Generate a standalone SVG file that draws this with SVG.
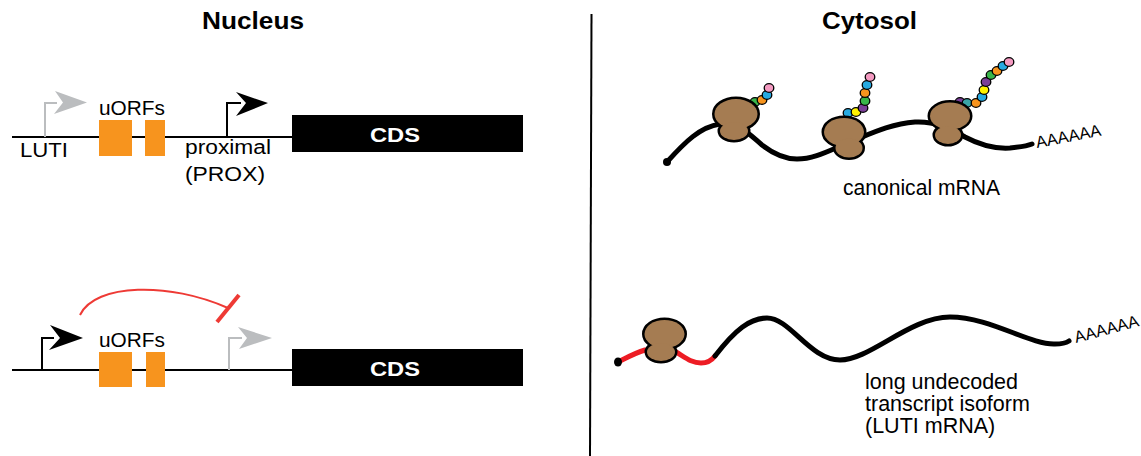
<svg xmlns="http://www.w3.org/2000/svg" width="1141" height="456" viewBox="0 0 1141 456">
  <style>
    .title { font-family: "Liberation Sans", Arial, sans-serif; font-weight: bold; font-size: 23px; fill: #000; }
    .lbl { font-family: "Liberation Sans", Arial, sans-serif; font-size: 19.5px; fill: #000; }
    .lbl2 { font-family: "Liberation Sans", Arial, sans-serif; font-size: 21.5px; fill: #000; }
    .cds-txt { font-family: "Liberation Sans", Arial, sans-serif; font-weight: bold; font-size: 19.5px; fill: #fff; }
    .polyA { font-family: "Liberation Sans", Arial, sans-serif; font-size: 16.5px; fill: #000; }
    .dna { stroke: #000; stroke-width: 2; fill: none; }
    .uorf { fill: #F7941E; }
    .cds { fill: #000; }
    .prom-on { stroke: #000; stroke-width: 2; fill: none; }
    .prom-off { stroke: #BBBDBF; stroke-width: 2; fill: none; }
    .head-on { fill: #000; }
    .head-off { fill: #BBBDBF; }
    .mrna { stroke: #000; stroke-width: 5; fill: none; stroke-linecap: round; }
    .mrna-red { stroke: #ED1C24; stroke-width: 5; fill: none; stroke-linecap: round; }
    .rb-o { fill: #000; stroke: #000; stroke-width: 5; }
    .rb-f { fill: #A57C52; }
    .bead { stroke: #000; stroke-width: 1.3; }
    .g { fill: #39B54A; } .o { fill: #F7941E; } .b { fill: #27AAE1; } .p { fill: #F49AC1; }
    .y { fill: #FFF200; } .v { fill: #7B3F98; } .t { fill: #3AA4A6; }
  </style>

  <!-- section titles and divider -->
  <g id="titles">
    <text class="title" x="202" y="29" textLength="102" lengthAdjust="spacingAndGlyphs">Nucleus</text>
    <text class="title" x="822" y="29" textLength="95" lengthAdjust="spacingAndGlyphs">Cytosol</text>
    <line x1="591.5" y1="14" x2="590" y2="456" stroke="#000" stroke-width="2"/>
  </g>

  <!-- gene locus, PROX promoter active -->
  <g id="locus-prox">
    <line class="dna" x1="12" y1="137" x2="292" y2="137"/>
    <polyline class="prom-off" points="45,137 45,103 57,103"/>
    <polygon class="head-off" points="55,91 87,102.5 54,114 63,102.5"/>
    <rect class="uorf" x="99" y="120" width="33" height="36"/>
    <rect class="uorf" x="145" y="120" width="20" height="36"/>
    <polyline class="prom-on" points="227,137 227,103 241,103"/>
    <polygon class="head-on" points="236,92 268,103 236,116 246,103"/>
    <rect class="cds" x="292" y="115" width="231" height="37"/>
    <text class="cds-txt" x="370" y="142" textLength="50" lengthAdjust="spacingAndGlyphs">CDS</text>
    <text class="lbl" x="99" y="115" textLength="66" lengthAdjust="spacingAndGlyphs">uORFs</text>
    <text class="lbl" x="20" y="157" textLength="48" lengthAdjust="spacingAndGlyphs">LUTI</text>
    <text class="lbl" x="185" y="154" textLength="86" lengthAdjust="spacingAndGlyphs">proximal</text>
    <text class="lbl" x="185" y="181" textLength="80" lengthAdjust="spacingAndGlyphs">(PROX)</text>
  </g>

  <!-- gene locus, LUTI promoter active -->
  <g id="locus-luti">
    <line class="dna" x1="12" y1="370" x2="292" y2="370"/>
    <polyline class="prom-on" points="42,370 42,338 54,338"/>
    <polygon class="head-on" points="50,325 83,338 49,350 60,338"/>
    <rect class="uorf" x="99" y="352" width="33" height="35"/>
    <rect class="uorf" x="146" y="352" width="19" height="35"/>
    <polyline class="prom-off" points="229,370 229,338 242,338"/>
    <polygon class="head-off" points="238,327 272,338 239,349 247,338"/>
    <rect class="cds" x="292" y="349" width="231" height="37"/>
    <text class="cds-txt" x="370" y="376" textLength="50" lengthAdjust="spacingAndGlyphs">CDS</text>
    <text class="lbl" x="99" y="347" textLength="66" lengthAdjust="spacingAndGlyphs">uORFs</text>
  </g>

  <!-- repression of PROX by LUTI transcription -->
  <g id="connectors">
    <path d="M80,315 C95,283 170,282 228,308" fill="none" stroke="#EE3A35" stroke-width="2"/>
    <line x1="217" y1="322" x2="239" y2="295" stroke="#EE3A35" stroke-width="4"/>
  </g>

  <!-- canonical mRNA with three translating ribosomes -->
  <g id="canonical-mrna">
    <path class="mrna" d="M667,162 C685,142 700,127 720,124 C738,121 750,135 762,145 C775,155 785,159 797,159 C815,159 830,150 850,142 C870,134 890,124 915,122 C935,121 950,128 965,137 C980,145 995,149 1010,148 C1020,147 1027,146 1032,144"/>
    <circle cx="667" cy="162" r="4"/>

    <!-- nascent peptides -->
    <g class="bead">
      <ellipse class="g" cx="755" cy="102" rx="4.8" ry="4.3"/>
      <ellipse class="o" cx="762" cy="100" rx="4.8" ry="4.3"/>
      <ellipse class="b" cx="767" cy="95" rx="4.8" ry="4.3"/>
      <ellipse class="p" cx="769" cy="88" rx="4.8" ry="4.3"/>

      <ellipse class="b" cx="848" cy="113" rx="4.8" ry="4.3"/>
      <ellipse class="y" cx="856" cy="112" rx="4.8" ry="4.3"/>
      <ellipse class="v" cx="863" cy="108" rx="4.8" ry="4.3"/>
      <ellipse class="g" cx="865" cy="101" rx="4.8" ry="4.3"/>
      <ellipse class="o" cx="865" cy="93" rx="4.8" ry="4.3"/>
      <ellipse class="b" cx="867" cy="85" rx="4.8" ry="4.3"/>
      <ellipse class="p" cx="870" cy="77" rx="4.8" ry="4.3"/>

      <ellipse class="v" cx="960" cy="102" rx="4.8" ry="4.3"/>
      <ellipse class="t" cx="967" cy="103" rx="4.8" ry="4.3"/>
      <ellipse class="o" cx="976" cy="103" rx="4.8" ry="4.3"/>
      <ellipse class="b" cx="982" cy="97" rx="4.8" ry="4.3"/>
      <ellipse class="y" cx="984" cy="90" rx="4.8" ry="4.3"/>
      <ellipse class="v" cx="986" cy="82" rx="4.8" ry="4.3"/>
      <ellipse class="g" cx="991" cy="75" rx="4.8" ry="4.3"/>
      <ellipse class="o" cx="997" cy="71" rx="4.8" ry="4.3"/>
      <ellipse class="b" cx="1003" cy="66" rx="4.8" ry="4.3"/>
      <ellipse class="p" cx="1009" cy="62" rx="4.8" ry="4.3"/>
    </g>

    <!-- ribosomes: outline pass, then fill pass -->
    <g id="ribosome-1">
      <ellipse class="rb-o" cx="736" cy="114" rx="21.5" ry="15"/>
      <ellipse class="rb-o" cx="734" cy="131" rx="14" ry="9"/>
      <ellipse class="rb-f" cx="736" cy="114" rx="21.5" ry="15"/>
      <ellipse class="rb-f" cx="734" cy="131" rx="14" ry="9"/>
    </g>
    <g id="ribosome-2">
      <ellipse class="rb-o" cx="844" cy="132" rx="20" ry="14"/>
      <ellipse class="rb-o" cx="849" cy="148" rx="13.5" ry="9.5"/>
      <ellipse class="rb-f" cx="844" cy="132" rx="20" ry="14"/>
      <ellipse class="rb-f" cx="849" cy="148" rx="13.5" ry="9.5"/>
    </g>
    <g id="ribosome-3">
      <ellipse class="rb-o" cx="950" cy="116" rx="20" ry="13.5"/>
      <ellipse class="rb-o" cx="948" cy="135" rx="13" ry="9"/>
      <ellipse class="rb-f" cx="950" cy="116" rx="20" ry="13.5"/>
      <ellipse class="rb-f" cx="948" cy="135" rx="13" ry="9"/>
    </g>

    <text class="polyA" transform="translate(1037,148) rotate(-11)">AAAAAA</text>
    <text class="lbl2" x="843" y="195" textLength="157" lengthAdjust="spacingAndGlyphs">canonical mRNA</text>
  </g>

  <!-- LUTI mRNA: uORF-bound ribosome, CDS not translated -->
  <g id="luti-mrna">
    <path class="mrna-red" d="M618,362 C628,357 635,353 645,350 L676,352 C686,358 692,363 701,363 C708,363 712,360 715,356"/>
    <path class="mrna" d="M715,356 C735,330 750,318 767,318 C790,318 810,360 840,360 C870,360 910,317 950,317 C990,317 1030,345 1055,344 C1062,344 1066,343 1069,341"/>
    <ellipse cx="618" cy="362" rx="4" ry="4.5"/>
    <g id="ribosome-4">
      <ellipse class="rb-o" cx="664.5" cy="334" rx="20" ry="14"/>
      <ellipse class="rb-o" cx="661" cy="352" rx="14" ry="9"/>
      <ellipse class="rb-f" cx="664.5" cy="334" rx="20" ry="14"/>
      <ellipse class="rb-f" cx="661" cy="352" rx="14" ry="9"/>
    </g>
    <text class="polyA" font-size="14.5" transform="translate(1076,343) rotate(-15)">AAAAAA</text>
    <text class="lbl2" x="865" y="389">long undecoded</text>
    <text class="lbl2" x="865" y="411">transcript isoform</text>
    <text class="lbl2" x="865" y="433">(LUTI mRNA)</text>
  </g>
</svg>
